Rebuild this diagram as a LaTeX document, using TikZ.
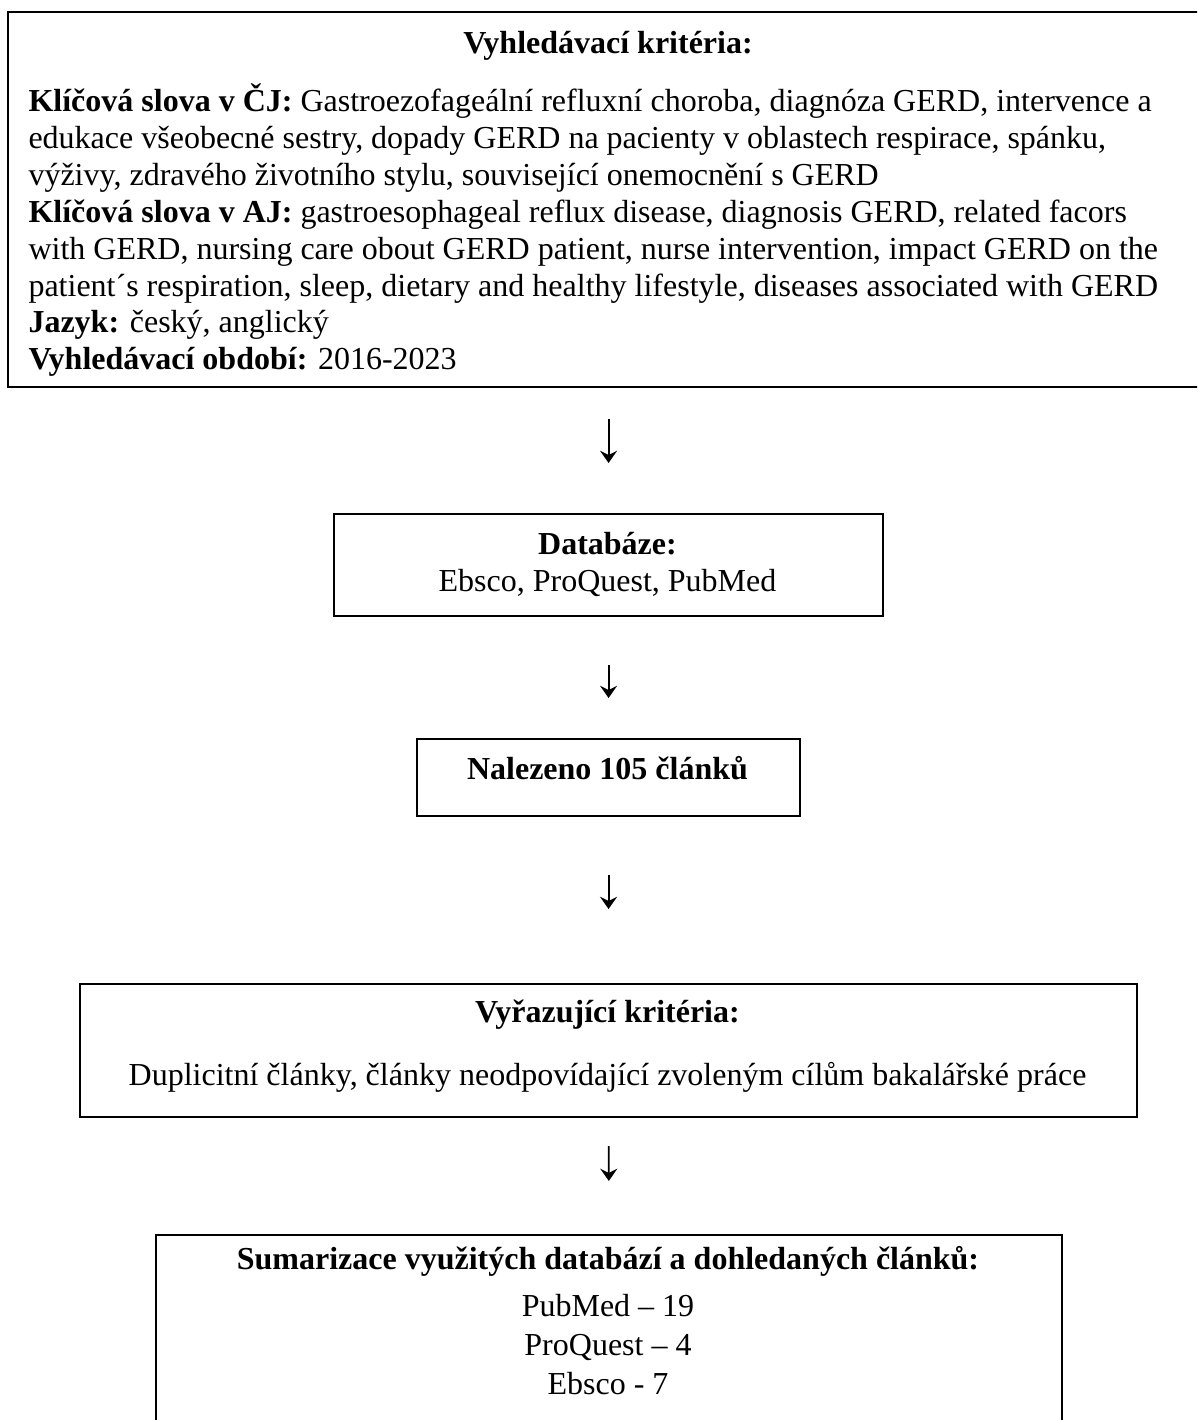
\documentclass[tikz,border=0pt]{standalone}
\usepackage{fontspec}
\setmainfont{Liberation Serif}
\usetikzlibrary{arrows.meta}
\begin{document}
\begin{tikzpicture}[x=0.375pt,y=-0.375pt,
  box/.style={draw=black, line width=0.8pt, inner sep=0pt, anchor=north west},
  txt/.style={inner sep=0pt, font=\fontsize{12}{13.5}\selectfont},
  arr/.style={line width=0.7pt, -{Stealth[length=4.6pt, width=6.4pt, inset=1.6pt]}}]
\useasboundingbox (0,0) rectangle (1197,1420);
\clip (0,0) rectangle (1197,1420);
% boxes
\node[box, minimum width={1198*0.375pt}, minimum height={375*0.375pt}] (top) at (7,11) {};
\node[box, minimum width={549*0.375pt}, minimum height={102*0.375pt}] (db) at (333,513) {};
\node[box, minimum width={383*0.375pt}, minimum height={77*0.375pt}] (nal) at (416,738) {};
\node[box, minimum width={1057*0.375pt}, minimum height={133*0.375pt}] (vyr) at (79,983) {};
\node[box, minimum width={906*0.375pt}, minimum height={230*0.375pt}] (sum) at (155,1234) {};
% top box text
\node[txt, anchor=base] (t0) at (608,54) {\textbf{Vyhledávací kritéria:}};
\node[txt, anchor=base west] (t1) at (28,112) {\textbf{Klíčová slova v ČJ:} Gastroezofageální refluxní choroba, diagnóza GERD, intervence a};
\node[txt, anchor=base west] (t2) at (28,148.8) {edukace všeobecné sestry, dopady GERD na pacienty v oblastech respirace, spánku,};
\node[txt, anchor=base west] (t3) at (28,185.6) {výživy, zdravého životního stylu, související onemocnění s GERD};
\node[txt, anchor=base west] (t4) at (28,222.4) {\textbf{Klíčová slova v AJ:} gastroesophageal reflux disease, diagnosis GERD, related facors};
\node[txt, anchor=base west] (t5) at (28,259.2) {with GERD, nursing care obout GERD patient, nurse intervention, impact GERD on the};
\node[txt, anchor=base west] (t6) at (28,296) {patient´s respiration, sleep, dietary and healthy lifestyle, diseases associated with GERD};
\node[txt, anchor=base west] (t7) at (28,332.8) {\textbf{Jazyk:} český, anglický};
\node[txt, anchor=base west] (t8) at (28,369.6) {\textbf{Vyhledávací období:} 2016-2023};
% databaze
\node[txt, anchor=base] (d1) at (607.5,554) {\textbf{Databáze:}};
\node[txt, anchor=base] (d2) at (607.5,591) {Ebsco, ProQuest, PubMed};
% nalezeno
\node[txt, anchor=base] (n1) at (607.5,779) {\textbf{Nalezeno 105 článků}};
% vyrazujici
\node[txt, anchor=base] (v1) at (607.5,1022) {\textbf{Vyřazující kritéria:}};
\node[txt, anchor=base] (v2) at (607.5,1085) {Duplicitní články, články neodpovídající zvoleným cílům bakalářské práce};
% sumarizace
\node[txt, anchor=base] (s1) at (608,1269) {\textbf{Sumarizace využitých databází a dohledaných článků:}};
\node[txt, anchor=base] (s2) at (608,1316) {PubMed – 19};
\node[txt, anchor=base] (s3) at (608,1355) {ProQuest – 4};
\node[txt, anchor=base] (s4) at (608,1394) {Ebsco - 7};
% arrows
\draw[arr, shorten <=11.6pt, shorten >=18.75pt] (top.south -| db.north) -- (db.north);
\draw[arr, shorten <=18pt, shorten >=15pt] (db.south) -- (nal.north);
\draw[arr, shorten <=21.75pt, shorten >=27.75pt] (nal.south) -- (vyr.north);
\draw[arr, shorten <=10.5pt, shorten >=19.9pt] (vyr.south) -- (sum.north);
\end{tikzpicture}
\end{document}
